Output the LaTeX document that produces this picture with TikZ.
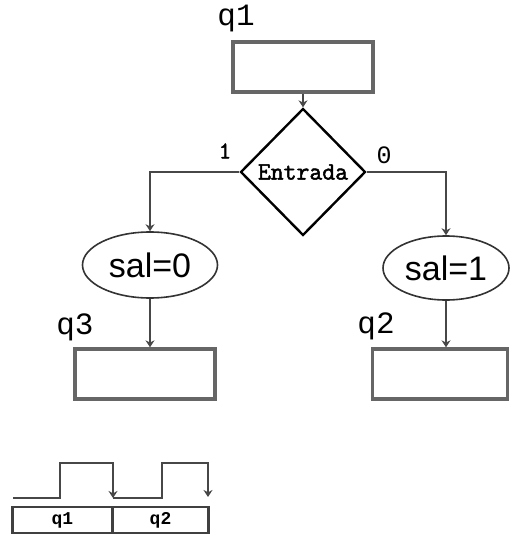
\documentclass[tikz,border=0pt]{standalone}
\usepackage{fontspec}
\setmainfont{Liberation Serif}
\setsansfont{Liberation Sans}
\newfontfamily\qfont{Liberation Mono}
\newfontfamily\ttbold[FakeBold=2]{Latin Modern Mono}
\usetikzlibrary{arrows.meta,shapes.geometric}

\begin{document}
\begin{tikzpicture}
    [x=1pt, y=-1pt, >={Stealth[length=7pt,width=9pt]},
     st/.style={rectangle, draw=black!60, line width=3.4pt, minimum width=140pt, minimum height=50pt},
     dec/.style={diamond, draw, line width=2.4pt, inner sep=0pt, minimum width=125pt, minimum height=127pt, font=\ttbold\fontsize{25}{25}\selectfont},
     outp/.style={ellipse, draw=black!80, line width=1.6pt, inner sep=0pt, font=\sffamily\fontsize{34}{36}\selectfont},
     lbl/.style={font=\qfont\fontsize{31}{32}\selectfont},
     wire/.style={draw=black!72, line width=2.6pt}]
    \useasboundingbox (0,0) rectangle (511,537);
    % flow chart
    \node[st] (q1box) at (303,67) {};
    \node[lbl] (q1lab) at (236,19) {q1};
    \node[dec] (entrada) at (303,172) {Entrada};
    \node[outp, minimum width=135pt, minimum height=66pt] (sal0) at (150,265) {sal=0};
    \node[outp, minimum width=126pt, minimum height=64pt] (sal1) at (446,268) {sal=1};
    \node[st] (q3box) at (145,374) {};
    \node[st, minimum width=135pt] (q2box) at (440,374) {};
    \node[lbl] (q3lab) at (75,327) {q3};
    \node[lbl] (q2lab) at (376,326) {q2};
    \node[font=\ttbold\fontsize{24}{24}\selectfont] (one) at (225,151) {1};
    \node[font=\qfont\fontsize{25}{25}\selectfont] (zero) at (384,155) {0};
    \draw[wire, ->] (q1box.south) -- (entrada.north);
    \draw[wire, ->] (entrada.west) -| (sal0.north);
    \draw[wire, ->] (entrada.east) -| (sal1.north);
    \draw[wire, ->] (sal0.south) -- (sal0.south |- q3box.north);
    \draw[wire, ->] (sal1.south) -- (sal1.south |- q2box.north);
    % clock and states
    \coordinate (w0) at (13,498);
    \coordinate (w1) at (60,498);
    \coordinate (w2) at (113,498);
    \coordinate (w3) at (162,498);
    \coordinate (w4) at (208,497);
    \draw[wire, ->] (w0) -- (w1) |- ++(53,-35) -- (w2);
    \draw[wire, ->] (w2) -- (w3) |- ++(46,-35) -- (w4);
    \node[rectangle, draw=black!75, line width=2.6pt, minimum width=100pt, minimum height=26pt] (s1) at (62.5,520) {};
    \node[rectangle, draw=black!75, line width=2.6pt, minimum width=96pt, minimum height=26pt] (s2) at (160.5,520) {};
    \node[font=\qfont\bfseries\fontsize{18}{18}\selectfont] (s1lab) at (s1) {q1};
    \node[font=\qfont\bfseries\fontsize{18}{18}\selectfont] (s2lab) at (s2) {q2};
\end{tikzpicture}
\end{document}
